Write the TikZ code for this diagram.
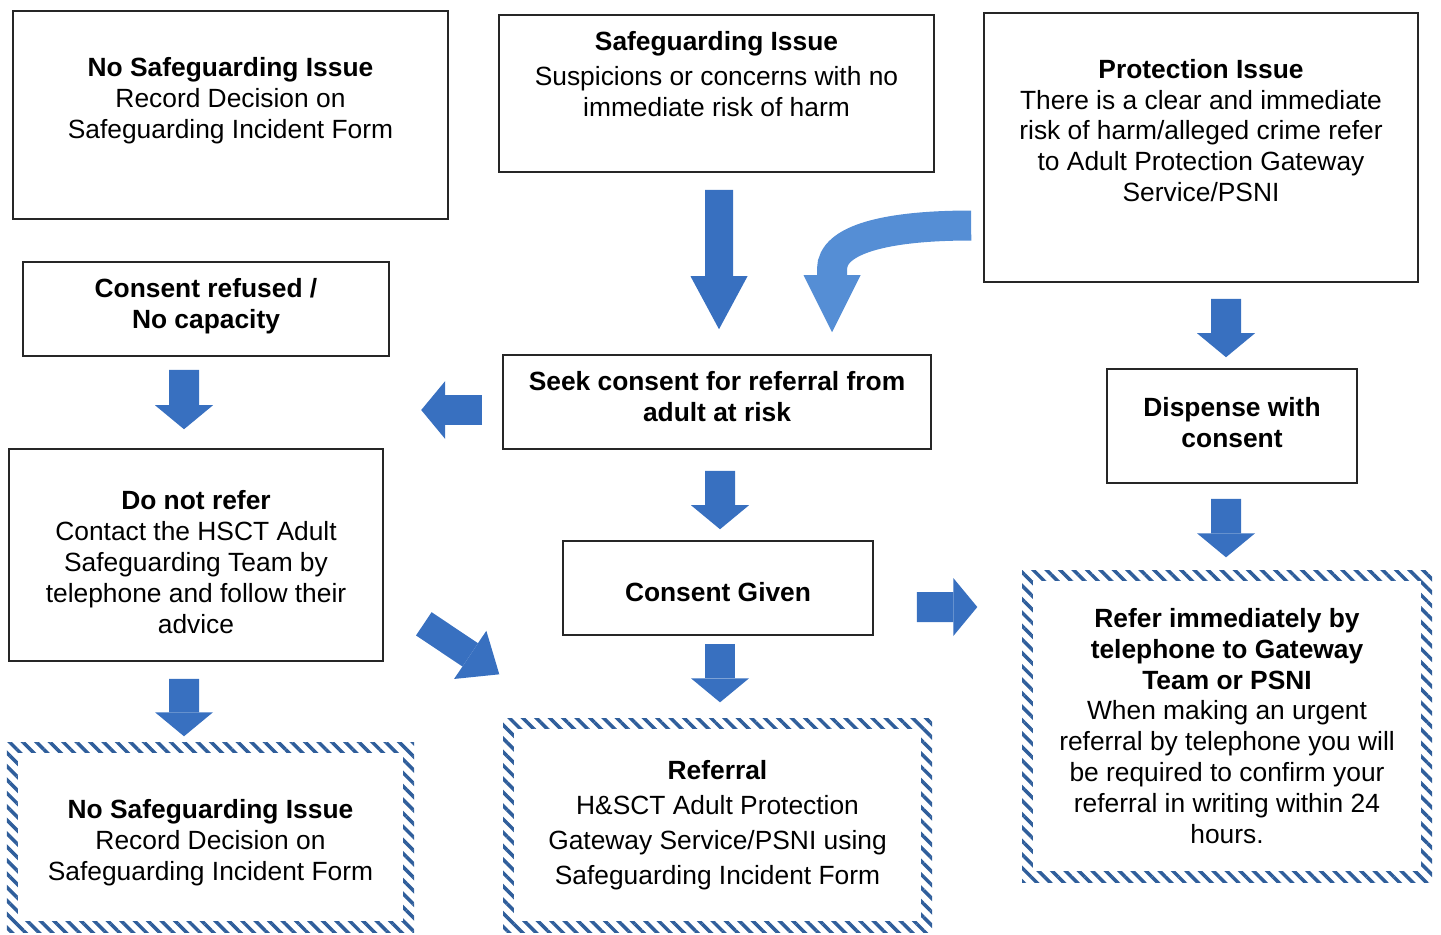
\documentclass[tikz,border=0pt]{standalone}
\usepackage{fontspec}
\setmainfont{Liberation Sans}
\usetikzlibrary{arrows.meta,patterns.meta}

\definecolor{arrowblue}{RGB}{56,112,192}
\definecolor{curveblue}{RGB}{85,142,213}
\definecolor{hatchblue}{RGB}{47,94,155}

\tikzset{
    stepbox/.style={draw=black!85, line width=0.45pt, fill=white, align=center,
        font=\fontsize{7.5}{8.8}\selectfont},
    boxtext/.style={align=center, font=\fontsize{7.5}{8.8}\selectfont},
    hatchbox/.style={align=center, font=\fontsize{7.5}{8.8}\selectfont,
        pattern={Lines[angle=-45,distance=0.095cm,line width=0.035cm]}, pattern color=hatchblue,
        path picture={\fill[white] ([shift={(0.11cm,-0.11cm)}]path picture bounding box.north west)
            rectangle ([shift={(-0.11cm,0.11cm)}]path picture bounding box.south east);}},
    blockarrow/.style={draw=arrowblue, line width=0.30cm,
        -{Triangle[width=0.58cm,length=0.24cm,line width=0pt]}},
    bigarrow/.style={draw=arrowblue, line width=0.28cm,
        -{Triangle[width=0.57cm,length=0.53cm,line width=0pt]}},
    curvedarrow/.style={draw=curveblue, line width=0.30cm,
        -{Triangle[width=0.57cm,length=0.57cm,line width=0pt]}}
}

\begin{document}
\begin{tikzpicture}
    \useasboundingbox (0,0) rectangle (14.41,-9.34);

    % top row
    \node[stepbox, minimum width=4.35cm, minimum height=2.08cm] (nsi-top) at (2.305,-1.15) {};
    \node[boxtext, yshift=0.14cm] (nsi-top-txt) at (nsi-top) {\textbf{No Safeguarding Issue}\\Record Decision on\\Safeguarding Incident Form};

    \node[stepbox, minimum width=4.35cm, minimum height=1.57cm] (safe) at (7.165,-0.935) {};
    \node[boxtext, yshift=0.195cm] (safe-txt) at (safe) {\textbf{Safeguarding Issue}\\[1pt]Suspicions or concerns with no\\immediate risk of harm};

    \node[stepbox, minimum width=4.34cm, minimum height=2.69cm] (prot) at (12.01,-1.475) {};
    \node[boxtext, yshift=0.17cm] (prot-txt) at (prot) {\textbf{Protection Issue}\\There is a clear and immediate\\risk of harm/alleged crime refer\\to Adult Protection Gateway\\Service/PSNI};

    % middle
    \node[stepbox, minimum width=3.66cm, minimum height=0.94cm] (refused) at (2.06,-3.09) {};
    \node[boxtext, yshift=0.03cm] (refused-txt) at (refused) {\textbf{Consent refused /}\\\textbf{No capacity}};

    \node[stepbox, minimum width=4.28cm, minimum height=0.94cm] (seek) at (7.17,-4.02) {};
    \node[boxtext, yshift=0.05cm] (seek-txt) at (seek) {\textbf{Seek consent for referral from}\\\textbf{adult at risk}};

    \node[stepbox, minimum width=2.50cm, minimum height=1.14cm] (disp) at (12.32,-4.26) {};
    \node[boxtext, yshift=0.03cm] (disp-txt) at (disp) {\textbf{Dispense with}\\\textbf{consent}};

    \node[stepbox, minimum width=3.74cm, minimum height=2.12cm] (donot) at (1.96,-5.55) {};
    \node[boxtext, yshift=-0.07cm] (donot-txt) at (donot) {\textbf{Do not refer}\\Contact the HSCT Adult\\Safeguarding Team by\\telephone and follow their\\advice};

    \node[stepbox, minimum width=3.10cm, minimum height=0.94cm] (given) at (7.18,-5.88) {};
    \node[boxtext, yshift=-0.04cm] (given-txt) at (given) {\textbf{Consent Given}};

    % outcomes
    \node[hatchbox, minimum width=4.07cm, minimum height=1.90cm] (nsi-bot) at (2.105,-8.37) {};
    \node[boxtext, yshift=-0.06cm] (nsi-bot-txt) at (nsi-bot) {\textbf{No Safeguarding Issue}\\Record Decision on\\Safeguarding Incident Form};

    \node[hatchbox, minimum width=4.29cm, minimum height=2.14cm, font=\fontsize{7.5}{10}\selectfont] (referral) at (7.175,-8.25) {\textbf{Referral}\\H\&SCT Adult Protection\\Gateway Service/PSNI using\\Safeguarding Incident Form};
    \node[hatchbox, minimum width=4.10cm, minimum height=3.12cm] (refimm) at (12.27,-7.26) {\textbf{Refer immediately by}\\\textbf{telephone to Gateway}\\\textbf{Team or PSNI}\\When making an urgent\\referral by telephone you will\\be required to confirm your\\referral in writing within 24\\hours.};

    % arrows
    \draw[bigarrow] ([xshift=0.025cm,yshift=-0.17cm]safe.south) -- ([xshift=0.02cm,yshift=0.25cm]seek.north);

    \coordinate (curve-start) at ([shift={(-0.12cm,-0.78cm)}]prot.west);
    \coordinate (curve-end) at ([xshift=1.15cm,yshift=0.22cm]seek.north);
    \coordinate (curve-bend) at ([yshift=0.63cm]curve-end);
    \draw[curvedarrow] (curve-start) .. controls +(-0.85,0) and +(0,0.3) .. (curve-bend) -- (curve-end);

    \draw[blockarrow] ([xshift=0.25cm,yshift=-0.16cm]prot.south) -- ([xshift=-0.06cm,yshift=0.11cm]disp.north);
    \draw[blockarrow] ([xshift=-0.06cm,yshift=-0.15cm]disp.south) -- ([xshift=-0.01cm,yshift=0.12cm]refimm.north);

    \coordinate (seek-left) at ([shift={(-0.81cm,-0.08cm)}]seek.west);
    \draw[blockarrow] ([shift={(-0.20cm,-0.08cm)}]seek.west) -- (seek-left);

    \draw[blockarrow] ([xshift=-0.22cm,yshift=-0.13cm]refused.south) -- ([xshift=-0.12cm,yshift=0.19cm]donot.north);
    \draw[blockarrow] ([xshift=0.03cm,yshift=-0.21cm]seek.south) -- ([xshift=0.02cm,yshift=0.11cm]given.north);
    \draw[blockarrow] ([shift={(0.43cm,-0.19cm)}]given.east) -- ([shift={(-0.44cm,1.19cm)}]refimm.west);
    \draw[blockarrow] ([xshift=-0.12cm,yshift=-0.17cm]donot.south) -- ([xshift=-0.265cm,yshift=0.04cm]nsi-bot.north);
    \draw[blockarrow] ([xshift=0.02cm,yshift=-0.08cm]given.south) -- ([xshift=0.025cm,yshift=0.15cm]referral.north);
    \draw[blockarrow, line width=0.28cm, -{Triangle[width=0.58cm,length=0.35cm,line width=0pt]}]
        ([shift={(0.40cm,0.38cm)}]donot.south east) -- ([shift={(-0.03cm,0.43cm)}]referral.north west);
\end{tikzpicture}
\end{document}
